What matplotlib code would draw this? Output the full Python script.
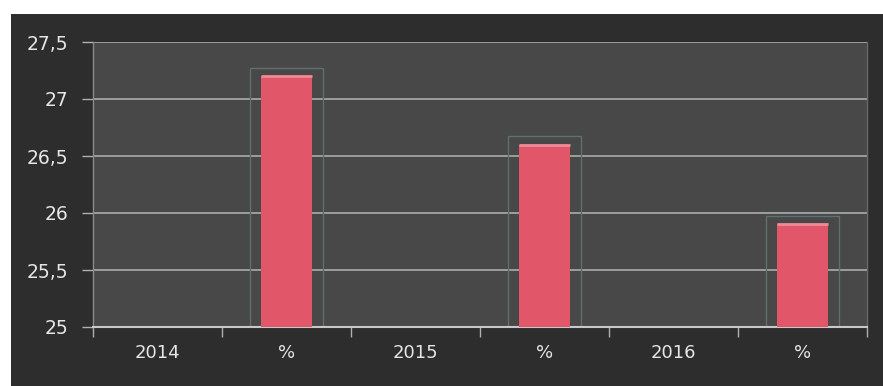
import numpy as np
import matplotlib
matplotlib.use("Agg")
import matplotlib.pyplot as plt
from matplotlib.patches import Rectangle
from matplotlib.transforms import ScaledTranslation

categories = ["2014", "%", "2015", "%", "2016", "%"]
values = [np.nan, 27.2, np.nan, 26.6, np.nan, 25.9]
y_ticks = [25, 25.5, 26, 26.5, 27, 27.5]
y_tick_labels = ["25", "25,5", "26", "26,5", "27", "27,5"]

W, H = 883, 386
fig = plt.figure(figsize=(W / 100, H / 100), dpi=100, facecolor="white")

# dark panel behind the chart
fig.patches.append(Rectangle((11 / W, 0), 1 - 11 / W, (H - 14) / H,
                             transform=fig.transFigure, facecolor="#2d2d2d",
                             edgecolor="none", zorder=-10))

ax = fig.add_axes([93 / W, (H - 327) / H, (867 - 93) / W, (327 - 42) / H])
ax.set_facecolor("#484848")

x = np.arange(len(categories))

# faint frame around each bar
frames = ax.bar(x, values, width=0.56, bottom=0, facecolor="none",
                edgecolor="#5f7070", linewidth=1.0, zorder=2)
shift = ScaledTranslation(0, 6 / 72, fig.dpi_scale_trans)
for p in frames:
    p.set_transform(ax.transData + shift)

bars = ax.bar(x, values, width=0.4, color="#e2566a", edgecolor="none", zorder=3)
for b in bars:
    if np.isfinite(b.get_height()):
        # light highlight along the top edge
        ax.plot([b.get_x(), b.get_x() + b.get_width()], [b.get_height()] * 2,
                color="#f08a98", lw=2.0, zorder=4, solid_capstyle="butt")

ax.set_xlim(-0.5, len(categories) - 0.5)
ax.set_ylim(25, 27.5)
ax.set_yticks(y_ticks)
ax.set_yticklabels(y_tick_labels)
ax.set_xticks(x)
ax.set_xticklabels(categories)
ax.set_xticks(np.arange(len(categories) + 1) - 0.5, minor=True)

ax.grid(axis="y", color="#acacac", lw=1.2, zorder=1)
ax.set_axisbelow(True)

ax.spines["top"].set_visible(False)
ax.spines["right"].set_color("#6a6a6a")
ax.spines["right"].set_linewidth(1.0)
ax.spines["left"].set_color("#8a8a8a")
ax.spines["left"].set_linewidth(1.0)
ax.spines["bottom"].set_color("#c8c8c8")
ax.spines["bottom"].set_linewidth(1.5)

ax.tick_params(axis="y", colors="#b0b0b0", labelcolor="#e6e6e6", length=8,
               width=1.0, pad=10, labelsize=13.5)
ax.tick_params(axis="x", which="major", length=0, labelcolor="#e6e6e6",
               pad=12, labelsize=13)
ax.tick_params(axis="x", which="minor", length=7, width=1.0, colors="#b0b0b0")

fig.savefig("out.png", dpi=100, facecolor=fig.get_facecolor())
